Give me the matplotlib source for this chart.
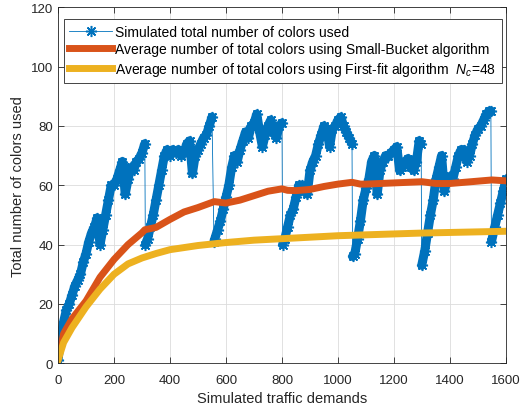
import matplotlib
matplotlib.use("Agg")
from matplotlib import pyplot as plt

plt.rcParams['font.family'] = ['Liberation Sans', 'DejaVu Sans']
plt.rcParams['mathtext.fontset'] = 'custom'
plt.rcParams['mathtext.it'] = 'Liberation Sans:italic'
plt.rcParams['mathtext.rm'] = 'Liberation Sans'

# simulated total number of colours (per sawtooth segment)
demands = [0, 10, 20, 30, 40, 50, 60, 70, 80, 90, 100, 110, 120, 130, 140, 150,
           160, 170, 180, 190, 200, 210, 220, 230, 240, 250, 260, 270, 280, 290, 300, 310,
           312, 320, 330, 340, 350, 360, 370, 380, 390, 400, 410, 420, 430, 440, 450,
           460, 470, 480, 490, 500, 510, 520, 530, 540, 550,
           557, 560, 570, 580, 590, 600, 610, 620, 630, 640, 650, 660, 670, 680, 690,
           700, 710, 720, 730, 740, 750, 760, 770, 780, 790, 800,
           802, 810, 820, 830, 840, 850, 860, 870, 880, 890, 900, 910, 920, 930, 940,
           950, 960, 970, 980, 990, 1000, 1010, 1020, 1030, 1040, 1050,
           1052, 1060, 1070, 1080, 1090, 1100, 1110, 1120, 1130, 1140, 1150, 1160, 1170,
           1180, 1190, 1200, 1210, 1220, 1230, 1240, 1250, 1260, 1270, 1280, 1290, 1297,
           1299, 1310, 1320, 1330, 1340, 1350, 1360, 1370, 1380, 1390, 1400, 1410, 1420,
           1430, 1440, 1450, 1460, 1470, 1480, 1490, 1500, 1510, 1520, 1530, 1540, 1546,
           1548, 1560, 1570, 1580, 1590, 1600]
colors_used = [1, 9, 14, 18, 20, 23, 26, 28, 30, 34, 37, 41, 44, 46, 49, 40,
               45, 50, 55, 60, 60, 62, 65, 68, 57, 62, 66, 65, 68, 69, 71, 74,
               40, 42, 46, 50, 55, 60, 65, 70, 72, 70, 72, 71, 72, 70, 71,
               74, 75, 64, 70, 72, 74, 76, 77, 80, 83,
               41, 42, 45, 48, 52, 56, 60, 66, 70, 68, 72, 75, 78, 76, 80,
               81, 84, 78, 73, 77, 80, 82, 78, 76, 80, 81,
               40, 42, 46, 50, 52, 56, 60, 60, 58, 57, 65, 68, 70, 74, 77,
               80, 79, 73, 79, 80, 82, 83, 80, 78, 76, 74,
               36, 37, 42, 48, 55, 59, 62, 68, 70, 57, 65, 68, 70,
               70, 71, 72, 73, 65, 66, 68, 69, 66, 65, 68, 75, 74,
               33, 38, 44, 50, 55, 62, 66, 70, 58, 62, 63, 62, 66,
               70, 72, 72, 68, 70, 74, 77, 79, 80, 82, 84, 85, 85,
               41, 46, 50, 54, 58, 62]

# averages
avg_x = [0, 20, 50, 100, 150, 200, 250, 300, 310, 350, 400, 450, 500, 558, 600,
         650, 700, 750, 800, 820, 850, 900, 950, 1000, 1050, 1080, 1100, 1200,
         1300, 1350, 1400, 1450, 1500, 1550, 1600]
small_bucket = [1, 10, 15, 21, 29, 35, 40, 44, 45, 45.8, 48.5, 51, 52.5, 54.5, 54,
                55, 56.5, 58, 58.8, 58.3, 58.2, 58.6, 59.6, 60.4, 61, 60.4, 60.4, 60.8,
                61.2, 60.6, 60.6, 61, 61.4, 61.8, 61.5]
ff_x = [0, 20, 50, 100, 150, 200, 250, 300, 350, 400, 500, 600, 700, 800, 900,
        1000, 1100, 1200, 1300, 1400, 1500, 1600]
first_fit = [1, 7, 12, 19, 25, 30, 33.5, 35.5, 37, 38.3, 39.7, 40.7, 41.5, 42, 42.5,
             43, 43.3, 43.6, 43.9, 44.1, 44.3, 44.5]

blue = '#0072BD'

fig = plt.figure(figsize=(5.25, 4.1), dpi=100)
ax = fig.add_axes([0.1105, 0.1115, 0.8533, 0.8683])

# dense star band: one thick stroke per sawtooth segment (no stroke on the drops)
starts = [0] + [i for i in range(1, len(colors_used))
                if colors_used[i - 1] - colors_used[i] > 20] + [len(colors_used)]
for a, b in zip(starts[:-1], starts[1:]):
    ax.plot(demands[a:b], colors_used[a:b], color=blue, lw=6.5,
            solid_capstyle='round', solid_joinstyle='round')

ax.plot(demands, colors_used, color=blue, lw=0.6, marker=(8, 2, 0),
        markersize=8, markeredgewidth=1.1,
        label='Simulated total number of colors used')
ax.plot(avg_x, small_bucket, color='#D95319', lw=5,
        label='Average number of total colors using Small-Bucket algorithm')
ax.plot(ff_x, first_fit, color='#EDB120', lw=5,
        label='Average number of total colors using First-fit algorithm  $N_c$=48')

ax.set_xlim(0, 1600)
ax.set_ylim(0, 120)
ax.set_xticks(range(0, 1601, 200))
ax.set_yticks(range(0, 121, 20))
ax.grid(True, color='#dcdcdc', lw=0.6)
ax.set_axisbelow(True)
ax.tick_params(direction='in', top=True, right=True, labelsize=9.5,
               colors='#262626', length=4, width=0.6)
ax.tick_params(axis='x', pad=8)
for s in ax.spines.values():
    s.set_linewidth(0.6)
    s.set_color('#262626')

ax.set_xlabel('Simulated traffic demands', fontsize=10.5, color='#262626', labelpad=3)
ax.set_ylabel('Total number of colors used', fontsize=10.5, color='#262626', labelpad=4)

leg = ax.legend(loc='upper left', bbox_to_anchor=(0.013, 0.967), borderaxespad=0,
                fontsize=10, fancybox=False, edgecolor='#262626', framealpha=1,
                numpoints=1, handlelength=3.1, handletextpad=0.2,
                labelspacing=0.25, borderpad=0.4)
leg.get_frame().set_linewidth(0.6)

fig.savefig('out.png', dpi=100)
